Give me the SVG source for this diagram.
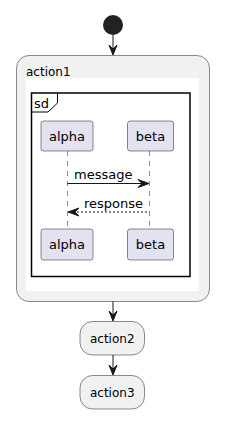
<svg xmlns="http://www.w3.org/2000/svg" width="228" height="428" viewBox="0 0 228 428">
<style>
.act{fill:#F1F1F1;stroke:#181818;stroke-width:0.5}
.part{fill:#E2E2F0;stroke:#181818;stroke-width:0.5}
.t12{font-family:"DejaVu Sans",sans-serif;font-size:12px;fill:#000}
.t13{font-family:"DejaVu Sans",sans-serif;font-size:13px;fill:#000}
.ln{stroke:#181818;stroke-width:1;fill:none}
.life{stroke:#181818;stroke-width:0.5;stroke-dasharray:5,5;fill:none}
.head{fill:#181818;stroke:#181818;stroke-width:1}
</style>
<g id="start"><circle cx="113" cy="25" r="10" fill="#222222"/></g>
<g id="action1">
<rect class="act" x="16.5" y="55.5" width="193" height="246" rx="12.5" ry="12.5"/>
<text class="t12" x="26" y="76">action1</text>
<rect x="26" y="78" width="173" height="213" fill="#FFFFFF"/>
</g>
<g id="sd">
<rect x="31.5" y="93" width="158.5" height="183.5" fill="none" stroke="#000" stroke-width="1.5"/>
<path d="M31.5,112 L48,112 L57.5,103 L57.5,93" fill="none" stroke="#000" stroke-width="1"/>
<text class="t13" x="34" y="108">sd</text>
</g>
<g id="lifelines">
<line class="life" x1="67.5" y1="151" x2="67.5" y2="229"/>
<line class="life" x1="149.5" y1="151" x2="149.5" y2="229"/>
</g>
<g id="alpha-top"><rect class="part" x="41" y="121" width="52" height="30" rx="2.5"/><text class="t13" x="67" y="141" text-anchor="middle">alpha</text></g>
<g id="beta-top"><rect class="part" x="127.5" y="121" width="46" height="30" rx="2.5"/><text class="t13" x="150.5" y="141" text-anchor="middle">beta</text></g>
<g id="alpha-bottom"><rect class="part" x="41" y="229" width="52" height="31" rx="2.5"/><text class="t13" x="67" y="249" text-anchor="middle">alpha</text></g>
<g id="beta-bottom"><rect class="part" x="127.5" y="229" width="46" height="31" rx="2.5"/><text class="t13" x="150.5" y="249" text-anchor="middle">beta</text></g>
<g id="action2"><rect class="act" x="80" y="321.5" width="64.5" height="33.5" rx="12.5"/><text class="t12" x="112.25" y="342.5" text-anchor="middle">action2</text></g>
<g id="action3"><rect class="act" x="80" y="375.5" width="64.5" height="33.5" rx="12.5"/><text class="t12" x="112.25" y="396.5" text-anchor="middle">action3</text></g>
<g id="connectors">
<line class="ln" x1="113" y1="35" x2="113" y2="54"/>
<polygon class="head" points="109,45 113,55 117,45 113,49"/>
<line class="ln" x1="113" y1="301.5" x2="113" y2="320"/>
<polygon class="head" points="109,311 113,321 117,311 113,315"/>
<line class="ln" x1="113" y1="355" x2="113" y2="374"/>
<polygon class="head" points="109,365 113,375 117,365 113,369"/>
<line class="ln" x1="67.5" y1="183.5" x2="148" y2="183.5"/>
<polygon class="head" points="138,179.5 149,183.5 138,187.5 142,183.5"/>
<text class="t13" x="74" y="179">message</text>
<line class="ln" x1="69" y1="212" x2="149.5" y2="212" stroke-dasharray="2,2"/>
<polygon class="head" points="79,208 68,212 79,216 75,212"/>
<text class="t13" x="84" y="207.5">response</text>
</g>
</svg>
